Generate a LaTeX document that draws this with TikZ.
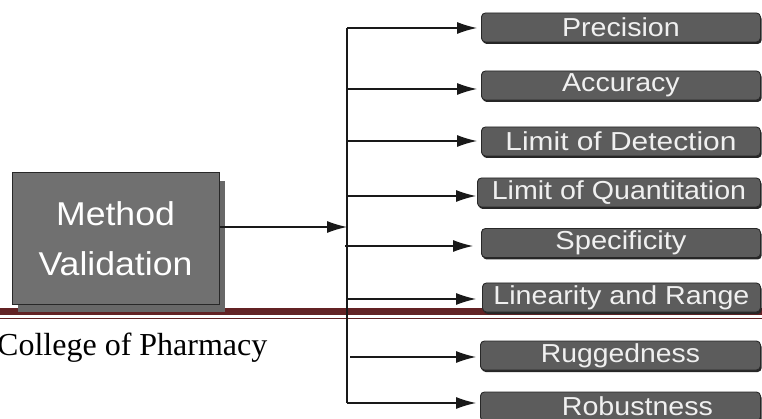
\documentclass[tikz,border=0pt]{standalone}
\usepackage{fontspec}
\usepackage{graphicx}
\setmainfont{Liberation Sans}
\newfontfamily\serifpharm{Liberation Serif}
\usetikzlibrary{arrows.meta,shadows}
\definecolor{bandred}{RGB}{99,34,36}
\definecolor{boxgray}{RGB}{92,92,92}
\definecolor{maingray}{RGB}{112,112,112}
\definecolor{mainshadow}{RGB}{104,104,104}
\definecolor{edgegray}{RGB}{40,40,40}
\definecolor{linecol}{RGB}{25,25,25}
\newcommand{\wide}[2]{\scalebox{#1}[1]{#2}}
\tikzset{
  itembox/.style={draw=edgegray, line width=0.9pt, fill=boxgray, rounded corners=4pt,
    minimum width=279pt, minimum height=29pt, anchor=west, inner sep=0pt,
    text=white!94!black, font=\fontsize{26}{26}\selectfont,
    drop shadow={shadow xshift=1.2pt, shadow yshift=-2pt, fill=black!85, opacity=1}},
  mainbox/.style={draw=edgegray, line width=1pt, fill=maingray,
    minimum width=207pt, minimum height=131pt, inner sep=0pt, align=center,
    text=white, font=\fontsize{33}{50}\selectfont,
    drop shadow={shadow xshift=6pt, shadow yshift=-8pt, fill=mainshadow, opacity=1}},
  conn/.style={draw=linecol, line width=1.2pt},
  tipped/.style={conn, -{Latex[length=20pt,width=12pt]}},
}
\begin{document}
\begin{tikzpicture}[x=1pt,y=-1pt]
\useasboundingbox (0,0) rectangle (762,419);
% band
\fill[bandred] (0,307.5) rectangle (762,315);
\fill[bandred] (0,317.6) rectangle (762,319);
% main box
\node[mainbox] (main) at (115.5,238.5) {\wide{1.08}{Method}\\\wide{1.08}{Validation}};
% college
\node[anchor=base west, inner sep=0pt, font=\serifpharm\fontsize{32}{32}\selectfont] (college) at (-3,355) {College of Pharmacy};
% item boxes
\node[itembox] (prec) at (481,27.5) {\wide{1.1}{Precision}};
\node[itembox] (accu) at (481,85.5) {\wide{1.1}{Accuracy}};
\node[itembox] (lod) at (481,141.5) {\wide{1.15}{Limit of Detection}};
\node[itembox, minimum width=283pt] (loq) at (477,192.5) {\wide{1.1}{Limit of Quantitation}};
\node[itembox] (spec) at (481,243) {\wide{1.12}{Specificity}};
\node[itembox, minimum width=278pt] (lin) at (482,297.5) {\wide{1.1}{Linearity and Range}};
\node[itembox, minimum width=280pt] (rugg) at (480,355.5) {\wide{1.09}{Ruggedness}};
\node[itembox, minimum width=280pt] (robu) at (480,406.5) {\hspace*{34pt}\wide{1.1}{Robustness}};
% trunk coordinates
\coordinate (p1) at (347,28);
\coordinate (p2) at (347,89);
\coordinate (p3) at (347,141);
\coordinate (p4) at (347,196);
\coordinate (p5) at (347,246);
\coordinate (p6) at (347,299);
\coordinate (p7) at (350,357);
\coordinate (p8) at (347,403);
\coordinate (join) at (347,227);
\draw[conn] (p1) -- (p8 -| p1);
% main arrow
\draw[tipped] (main.east |- join) -- (join);
% branches
\draw[tipped, shorten >=4pt] (p1) -- (prec.west |- p1);
\draw[tipped, shorten >=4pt] (p2) -- (accu.west |- p2);
\draw[tipped, shorten >=4pt] (p3) -- (lod.west |- p3);
\draw[tipped, shorten >=1pt] (p4) -- (loq.west |- p4);
\draw[tipped, shorten >=8pt] ([xshift=-2pt]p5) -- (spec.west |- p5);
\draw[tipped, shorten >=6pt] (p6) -- (lin.west |- p6);
\draw[tipped, shorten >=4pt] (p7) -- (rugg.west |- p7);
\draw[tipped, shorten >=4pt] (p8) -- (robu.west |- p8);
\end{tikzpicture}
\end{document}
